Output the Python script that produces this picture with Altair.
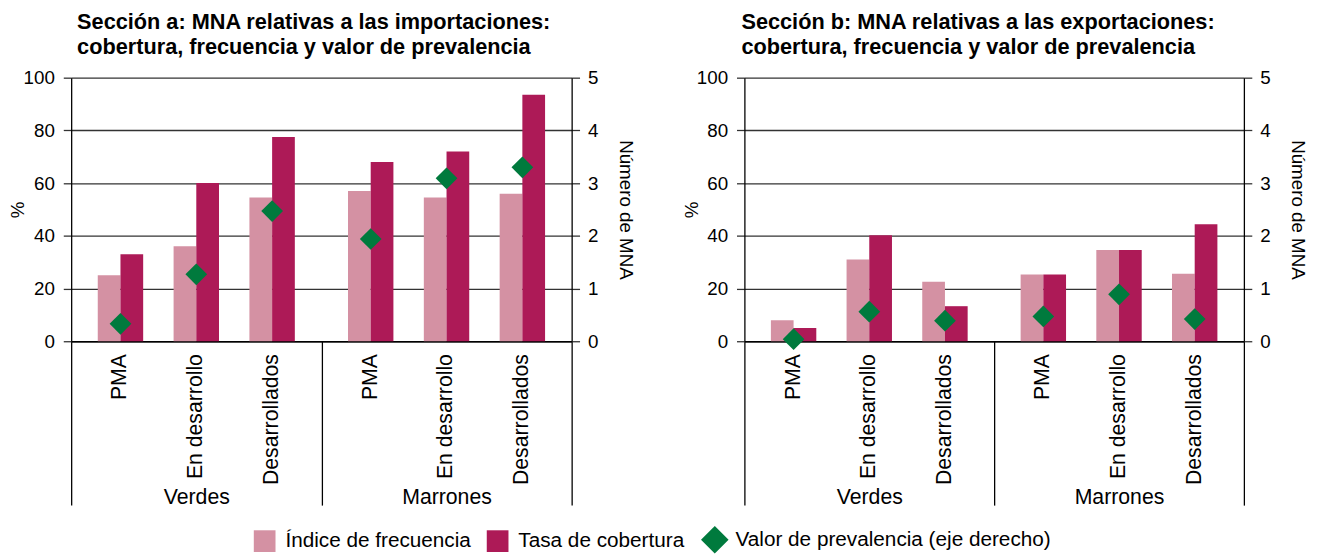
import altair as alt
import pandas as pd

groups = ["Verdes", "Marrones"]
subs = ["PMA", "En desarrollo", "Desarrollados"]
series = ["Índice de frecuencia", "Tasa de cobertura", "Valor de prevalencia (eje derecho)"]
colors = ["#D491A3", "#AD1A57", "#007A3D"]

cat_group = ["Verdes", "Verdes", "Verdes", "Marrones", "Marrones", "Marrones"]
cat_sub = ["PMA", "En desarrollo", "Desarrollados", "PMA", "En desarrollo", "Desarrollados"]

# Sección a: importaciones
a_indice = [25, 36, 54.5, 57, 54.5, 56]
a_tasa = [33, 60, 77.5, 68, 72, 93.5]
a_valor = [0.33, 1.27, 2.47, 1.94, 3.09, 3.3]

# Sección b: exportaciones
b_indice = [8, 31, 22.6, 25.3, 34.6, 25.6]
b_tasa = [5, 40.2, 13.3, 25.3, 34.6, 44.4]
b_valor = [0.04, 0.56, 0.39, 0.47, 0.89, 0.42]

title_a = ["Sección a: MNA relativas a las importaciones:", "cobertura, frecuencia y valor de prevalencia"]
title_b = ["Sección b: MNA relativas a las exportaciones:", "cobertura, frecuencia y valor de prevalencia"]

FONT = "Liberation Sans"
H = 267
BW = 23  # bar width
DIAMOND = "M-1.27,0L0,-1.27L1.27,0L0,1.27Z"
PAD_L, PAD_T = 1, 0
LEG_X, LEG_Y = 185, 457  # legend position relative to the first plot area


def panel(title, indice, tasa, valor, width, dx, show_legend):
    gw = width / 2.0
    bars = pd.DataFrame({
        "grupo": cat_group * 2,
        "sub": cat_sub * 2,
        "serie": [series[0]] * 6 + [series[1]] * 6,
        "valor": list(indice) + list(tasa),
    })
    pts = pd.DataFrame({
        "grupo": cat_group,
        "sub": cat_sub,
        "serie": [series[2]] * 6,
        "valor": valor,
    })

    x = alt.X(
        "grupo:N",
        sort=groups,
        scale=alt.Scale(domain=groups, paddingInner=0, paddingOuter=0),
        axis=alt.Axis(
            title=None, labelAngle=0, tickBand="extent", tickSize=166,
            tickColor="black", tickWidth=1.3, domainColor="black", domainWidth=1.3,
            labelPadding=-8, labelBaseline="middle", labelFontSize=21.5,
            labelColor="black", grid=False,
        ),
    )

    def xo(shift):
        return alt.XOffset(
            "sub:N", sort=subs,
            scale=alt.Scale(type="band", domain=subs, paddingInner=0,
                            paddingOuter=0.15, range=[shift, gw + shift]),
        )

    if show_legend:
        leg = alt.Legend(
            title=None, orient="none", direction="horizontal",
            legendX=LEG_X, legendY=LEG_Y,
            symbolSize=484, symbolStrokeWidth=0, labelFontSize=21,
            labelColor="black", labelOffset=10, columnPadding=16,
            labelLimit=0,
        )
    else:
        leg = None
    color = alt.Color("serie:N", scale=alt.Scale(domain=series, range=colors), legend=leg)
    shape = alt.Shape(
        "serie:N",
        scale=alt.Scale(domain=series, range=["square", "square", DIAMOND]),
        legend=leg,
    )
    yl = alt.Y(
        "valor:Q",
        stack=None,
        scale=alt.Scale(domain=[0, 100], nice=False),
        axis=alt.Axis(
            title="%", values=[0, 20, 40, 60, 80, 100], tickSize=8,
            labelPadding=9, labelFontSize=19, labelColor="black",
            titleFontSize=19, titleFontWeight="normal", titleColor="black",
            titleX=-44, titleBaseline="bottom",
            domainColor="black", domainWidth=1.3,
            tickColor="#333333", tickWidth=1.3, grid=True,
            gridColor="#333333", gridWidth=1.3, gridOpacity=1,
        ),
    )
    yr = alt.Y(
        "valor:Q",
        scale=alt.Scale(domain=[0, 5], nice=False),
        axis=alt.Axis(
            orient="right", title="Número de MNA", values=[0, 1, 2, 3, 4, 5],
            tickSize=8, labelPadding=8, labelFontSize=19, labelColor="black",
            titleFontSize=19, titleFontWeight="normal", titleColor="black",
            titlePadding=18, domainColor="black", domainWidth=1.3,
            tickColor="#333333", tickWidth=1.3, grid=False,
        ),
    )

    base = alt.Chart(bars)
    light = base.transform_filter(alt.datum.serie == series[0]).mark_bar(
        width=BW).encode(x=x, xOffset=xo(-BW / 2), y=yl, color=color)
    dark = base.transform_filter(alt.datum.serie == series[1]).mark_bar(
        width=BW).encode(x=x, xOffset=xo(BW / 2), y=yl, color=color)
    labels = base.transform_filter(alt.datum.serie == series[0]).mark_text(
        angle=270, align="right", baseline="middle", fontSize=21.5,
        color="black").encode(x=x, xOffset=xo(0), y=alt.value(H + 13), text="sub:N")
    points = alt.Chart(pts).mark_point(filled=True, size=300, opacity=1).encode(
        x=x, xOffset=xo(0), y=yr, color=color, shape=shape)

    left = alt.layer(light, dark, labels).resolve_scale(xOffset="independent")
    return alt.layer(left, points).resolve_scale(
        y="independent", xOffset="independent"
    ).properties(
        width=width, height=H,
        title=alt.Title(
            title, anchor="start", frame="group", fontSize=22,
            fontWeight="bold", color="black", dx=dx, offset=10, lineHeight=25,
        ),
    )


pa = panel(title_a, a_indice, a_tasa, a_valor, 507, 6, True)
pb = panel(title_b, b_indice, b_tasa, b_valor, 506, -3, False)

chart = alt.hconcat(pa, pb, spacing=48).properties(
    padding={"left": PAD_L, "top": PAD_T, "right": 5, "bottom": 2}
).configure(font=FONT).configure_view(stroke=None)

chart.save("out.html", embed_options={"renderer": "svg", "actions": False})
